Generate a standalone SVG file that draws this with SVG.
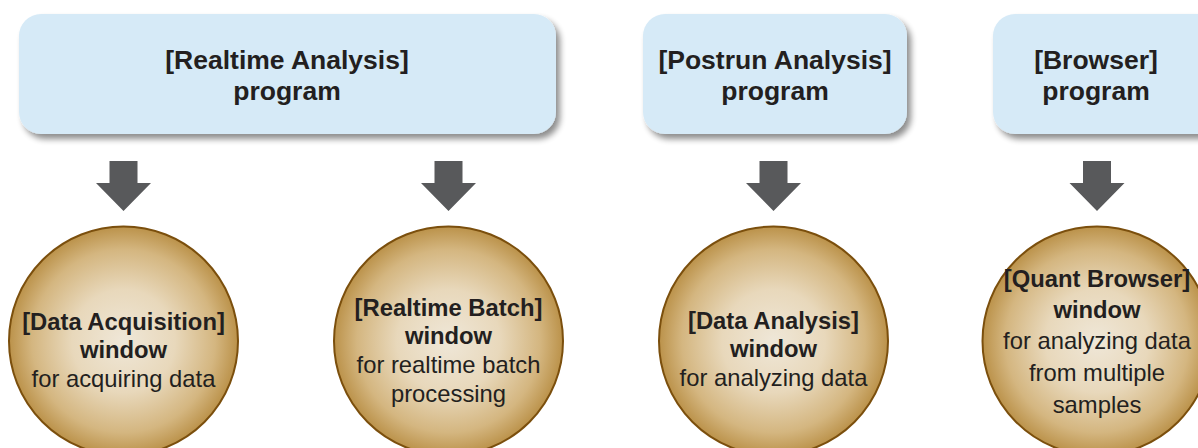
<svg xmlns="http://www.w3.org/2000/svg" width="1198" height="448" viewBox="0 0 1198 448">
<defs>
  <filter id="shadow" x="-10%" y="-20%" width="125%" height="150%">
    <feGaussianBlur in="SourceAlpha" stdDeviation="3"/>
    <feOffset dx="4" dy="5" result="b"/>
    <feComponentTransfer><feFuncA type="linear" slope="0.45"/></feComponentTransfer>
    <feMerge><feMergeNode/><feMergeNode in="SourceGraphic"/></feMerge>
  </filter>
  <radialGradient id="gold" cx="50%" cy="50%" r="50%">
    <stop offset="0" stop-color="#efe7d8"/>
    <stop offset="0.45" stop-color="#e8d8bb"/>
    <stop offset="0.8" stop-color="#d4b680"/>
    <stop offset="1" stop-color="#bb924a"/>
  </radialGradient>
  <symbol id="arrow" overflow="visible">
    <path d="M-14,0 H14 V22 H27.5 L0,50 L-27.5,22 H-14 Z"/>
  </symbol>
</defs>
<style>
  .box { fill:#d6eaf7; filter:url(#shadow); }
  .circ { fill:url(#gold); stroke:#7b4f0d; stroke-width:2; }
  .arr { fill:#58595b; }
  text { font-family:"Liberation Sans", Arial, sans-serif; fill:#231f20; text-anchor:middle; }
  .bt { font-size:26.5px; font-weight:bold; }
  .cb { font-size:23.8px; font-weight:bold; }
  .cr { font-size:23.8px; }
</style>
<rect width="1198" height="448" fill="#ffffff"/>

<g id="prog-realtime">
  <rect class="box" x="19" y="14" width="537" height="120" rx="22"/>
  <text class="bt" x="287" y="69">[Realtime Analysis]</text>
  <text class="bt" x="287" y="100">program</text>
</g>
<g id="prog-postrun">
  <rect class="box" x="643" y="14" width="264" height="120" rx="22"/>
  <text class="bt" x="775" y="69">[Postrun Analysis]</text>
  <text class="bt" x="775" y="100">program</text>
</g>
<g id="prog-browser">
  <rect class="box" x="993" y="14" width="240" height="120" rx="22"/>
  <text class="bt" x="1096" y="69">[Browser]</text>
  <text class="bt" x="1096" y="100">program</text>
</g>

<g id="connectors" class="arr">
  <use href="#arrow" x="123.5" y="161"/>
  <use href="#arrow" x="448.5" y="161"/>
  <use href="#arrow" x="773.5" y="161"/>
  <use href="#arrow" x="1097" y="161"/>
</g>

<g id="win-acquisition">
  <circle class="circ" cx="123.5" cy="341" r="114.5"/>
  <text class="cb" x="123.5" y="330">[Data Acquisition]</text>
  <text class="cb" x="123.5" y="358">window</text>
  <text class="cr" x="123.5" y="387">for acquiring data</text>
</g>
<g id="win-batch">
  <circle class="circ" cx="448.5" cy="341" r="114.5"/>
  <text class="cb" x="448.5" y="316">[Realtime Batch]</text>
  <text class="cb" x="448.5" y="344">window</text>
  <text class="cr" x="448.5" y="373">for realtime batch</text>
  <text class="cr" x="448.5" y="402">processing</text>
</g>
<g id="win-analysis">
  <circle class="circ" cx="773.5" cy="341" r="114.5"/>
  <text class="cb" x="773.5" y="329">[Data Analysis]</text>
  <text class="cb" x="773.5" y="357">window</text>
  <text class="cr" x="773.5" y="386">for analyzing data</text>
</g>
<g id="win-quant">
  <circle class="circ" cx="1097" cy="341" r="114.5"/>
  <text class="cb" x="1097" y="287">[Quant Browser]</text>
  <text class="cb" x="1097" y="318">window</text>
  <text class="cr" x="1097" y="349">for analyzing data</text>
  <text class="cr" x="1097" y="381">from multiple</text>
  <text class="cr" x="1097" y="413">samples</text>
</g>
</svg>
